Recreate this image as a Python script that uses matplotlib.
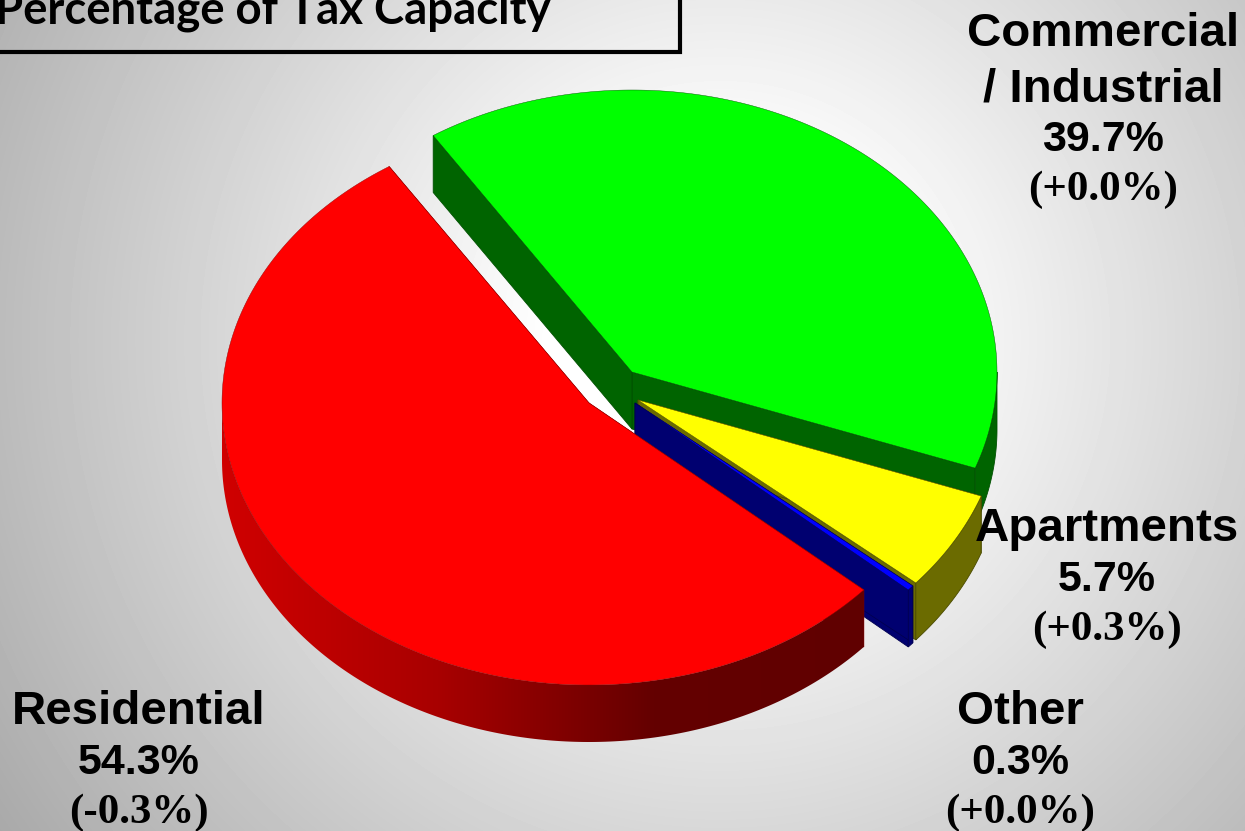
import numpy as np
import matplotlib
matplotlib.use('Agg')
import matplotlib.pyplot as plt
from matplotlib.patches import Polygon, Rectangle
from matplotlib.colors import LinearSegmentedColormap

categories = ['Commercial\n/ Industrial', 'Apartments', 'Other', 'Residential']
shares = [39.7, 5.7, 0.3, 54.3]
changes = [0.0, 0.3, 0.0, -0.3]
title = 'Percentage of Tax Capacity'

tops = ['#00ff00', '#ffff00', '#0000ff', '#ff0000']
walls = ['#006400', '#6b6b00', '#000070', '#600000']
edges = ['#005000', '#4a4a00', '#000050', '#900000']
centers = [(632, 372), (638, 400), (635, 403), (589, 403)]
radii = [365, 365, 365, 367]
label_pos = [(1103, 30), (1107, 525), (1020, 708), (139, 708)]

W, H = 1245, 831
ry, depth = 282, 57
start = 123.0

fig = plt.figure(figsize=(W / 100, H / 100), dpi=100)
ax = fig.add_axes([0, 0, 1, 1])
ax.set_xlim(0, W)
ax.set_ylim(H, 0)
ax.axis('off')

# background: white glow fading to grey
yy, xx = np.mgrid[0:H, 0:W]
dist = np.hypot(xx - 720, yy - 340)
bg = np.clip(1.0 - 0.00048 * np.clip(dist - 170, 0, None), 0, 1)
bg_cmap = LinearSegmentedColormap.from_list('bg', ['#000000', '#ffffff'])
ax.imshow(bg, cmap=bg_cmap, vmin=0, vmax=1, extent=(0, W, H, 0), aspect='auto', zorder=0)


def rim(c, rx, a0, a1, n=200):
    t = np.radians(np.linspace(a0, a1, n))
    return np.column_stack([c[0] + rx * np.cos(t), c[1] - ry * np.sin(t)])


def outer_wall(c, rx, a0, a1):
    # only the part of the rim on the near side of the pie shows
    lo, hi = sorted((a0, a1))
    t = []
    for low, high in [(-180, 0), (180, 360), (-540, -360)]:
        if max(lo, low) < min(hi, high):
            t.append((max(lo, low), min(hi, high)))
    polys = []
    for a, b in t:
        p = rim(c, rx, a, b)
        polys.append(np.vstack([p, p[::-1] + [0, depth]]))
    return polys


def radial_wall(c, rx, a):
    e = rim(c, rx, a, a, 1)[0]
    c = np.array(c, dtype=float)
    return np.array([c, e, e + [0, depth], c + [0, depth]])


angle = start
z = 2
for i in range(len(shares)):
    a1 = angle
    a0 = angle - shares[i] * 3.6
    c = centers[i]
    rx = radii[i]
    for a in (a0, a1):
        ax.add_patch(Polygon(radial_wall(c, rx, a), closed=True, fc=walls[i], ec=edges[i], lw=0.6, zorder=z))
    for poly in outer_wall(c, rx, a0, a1):
        patch = Polygon(poly, closed=True, fc=walls[i], ec=edges[i], lw=0.6, zorder=z + 1)
        ax.add_patch(patch)
        if categories[i] == 'Residential':
            # the big slice has a shaded wall
            patch.set_facecolor('none')
            patch.set_edgecolor('none')
            shade = LinearSegmentedColormap.from_list('wall', ['#d00000', '#a80000', '#640000', '#600000'])
            im = ax.imshow(np.linspace(0, 1, 256)[None, :], cmap=shade, extent=(222, 870, 760, 390),
                           aspect='auto', zorder=z + 1)
            im.set_clip_path(patch)
    top = np.vstack([[c], rim(c, rx, a0, a1)])
    ax.add_patch(Polygon(top, closed=True, fc=tops[i], ec=edges[i], lw=0.3, zorder=z + 2))
    angle = a0
    z += 3

ax.set_xlim(0, W)
ax.set_ylim(H, 0)

# header box runs off the top left corner
ax.add_patch(Rectangle((-20, -40), 700, 92, fc='none', ec='black', lw=3, zorder=30, clip_on=True))
ax.text(-5, 24, title, family='Lato', fontweight='bold', fontsize=32.8, color='black',
        ha='left', va='baseline', zorder=31)

sans = 'Liberation Sans'
serif = 'Liberation Serif'
for i in range(len(categories)):
    x, y = label_pos[i]
    for line in categories[i].split('\n'):
        ax.text(x, y + 4, line, family=sans, fontweight='bold', fontsize=34.2, ha='center', va='center', zorder=40)
        y += 55
    ax.text(x, y, '%.1f%%' % shares[i], family=sans, fontweight='bold', fontsize=31, ha='center', va='center', zorder=40)
    ax.text(x, y + 50, '(%+.1f%%)' % changes[i], family=serif, fontweight='bold', fontsize=31, ha='center', va='center', zorder=40)

fig.savefig('out.png', dpi=100)
